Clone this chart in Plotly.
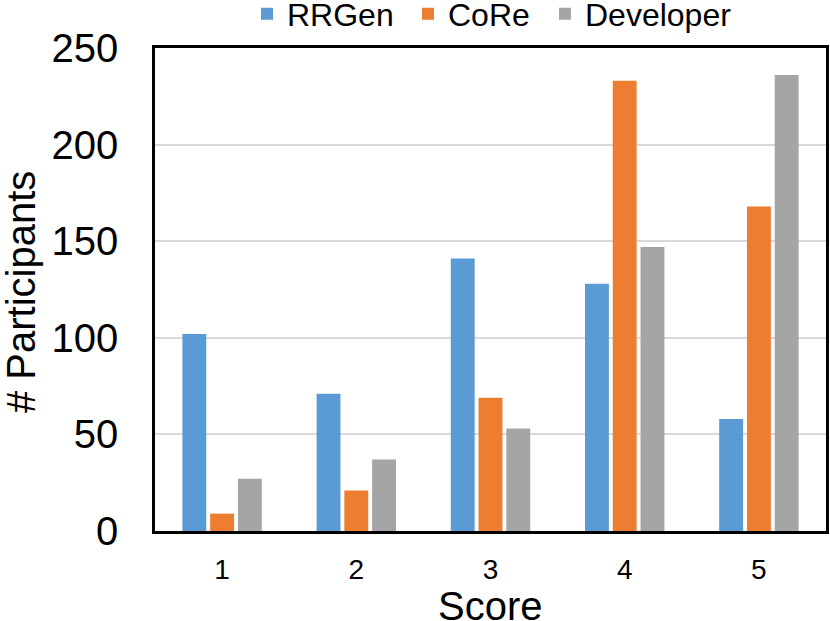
import plotly.graph_objects as go

scores = ["1", "2", "3", "4", "5"]
rrgen = [102, 71, 141, 128, 58]
core = [9, 21, 69, 233, 168]
developer = [27, 37, 53, 147, 236]
y_ticks = [0, 50, 100, 150, 200, 250]

FONT = "Arial, Liberation Sans, Helvetica, sans-serif"
W, H = 830, 621
L, R, T, B = 155, 4, 48, 90
PH = H - T - B
PW = W - L - R

fig = go.Figure()
fig.add_trace(go.Bar(name="RRGen", x=scores, y=rrgen, legend="legend",
                     marker=dict(color="#5B9BD5", line=dict(width=0))))
fig.add_trace(go.Bar(name="CoRe", x=scores, y=core, legend="legend2",
                     marker=dict(color="#ED7D31", line=dict(width=0))))
fig.add_trace(go.Bar(name="Developer", x=scores, y=developer, legend="legend3",
                     marker=dict(color="#A5A5A5", line=dict(width=0))))


def leg(text_start_px):
    return dict(orientation="h", x=(text_start_px - 40) / W, xanchor="left", xref="container",
                y=1 + (T + 13.5) / PH, yanchor="top", yref="paper",
                font=dict(size=32, family=FONT), itemwidth=30,
                bgcolor="rgba(0,0,0,0)")


fig.update_layout(
    width=W, height=H,
    margin=dict(l=L, r=R, t=T, b=B, autoexpand=False),
    paper_bgcolor="white", plot_bgcolor="white",
    barmode="group", bargap=0.379, bargroupgap=0.14,
    font=dict(family=FONT, color="black"),
    legend=leg(287), legend2=leg(448), legend3=leg(585),
    showlegend=True,
    annotations=[
        dict(text="# Participants", textangle=-90, showarrow=False,
             xref="paper", yref="paper", x=(21 - L) / PW, y=1 - (292 - T) / PH,
             xanchor="center", yanchor="middle", font=dict(size=40, family=FONT)),
        dict(text="Score", showarrow=False,
             xref="paper", yref="paper", x=0.5, y=1 - (606 - T) / PH,
             xanchor="center", yanchor="middle", font=dict(size=40, family=FONT)),
    ],
)

fig.update_xaxes(
    showline=True, linecolor="black", linewidth=2.5, mirror=True,
    showgrid=False, ticks="", tickfont=dict(size=28, family=FONT),
    ticklabelstandoff=12, automargin=False,
)
fig.update_yaxes(
    range=[0, 250], tickvals=y_ticks,
    showline=True, linecolor="black", linewidth=2.5, mirror=True,
    showgrid=True, gridcolor="#D9D9D9", gridwidth=1.5,
    ticks="", tickfont=dict(size=40, family=FONT), ticklabelstandoff=26,
    zeroline=False, automargin=False,
)

fig.write_html("out.html", post_script="document.body.style.margin='0px';",
               config={"displayModeBar": False})
